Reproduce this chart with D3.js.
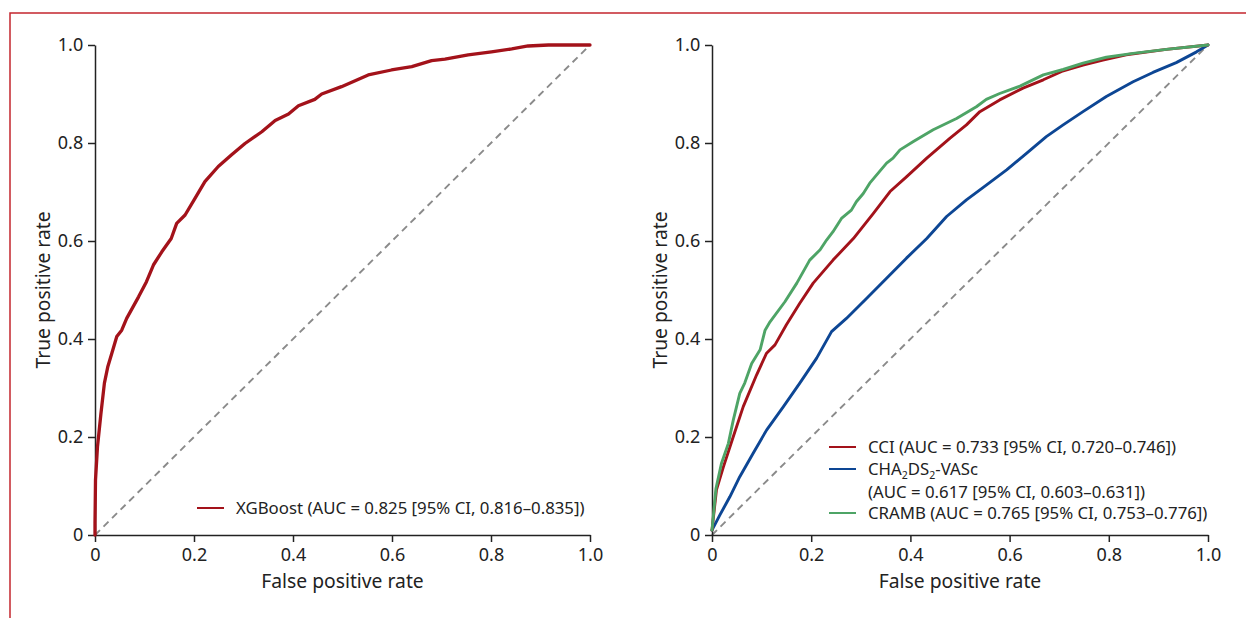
<!DOCTYPE html>
<meta charset="utf-8">
<style>
  body { margin: 0; background: #fff; }
  svg text { font-family: "Noto Sans", sans-serif; fill: #222; }
</style>
<div id="chart"></div>
<script src="https://d3js.org/d3.v7.min.js"></script>
<script>

// tick values, shared by both panels
var ticks = [0, 0.2, 0.4, 0.6, 0.8, 1.0];

// left panel: XGBoost ROC curve, [fpr, tpr]
var xgboost = [[0,0],[0,0.024],[0.001,0.112],[0.005,0.18],[0.012,0.248],[0.019,0.31],[0.026,0.344],
  [0.034,0.371],[0.044,0.405],[0.054,0.418],[0.064,0.442],[0.088,0.486],[0.104,0.517],[0.118,0.551],
  [0.135,0.578],[0.154,0.605],[0.165,0.636],[0.182,0.653],[0.202,0.687],[0.222,0.721],[0.249,0.752],
  [0.276,0.776],[0.303,0.799],[0.337,0.823],[0.364,0.846],[0.391,0.859],[0.411,0.876],[0.444,0.889],
  [0.458,0.9],[0.498,0.915],[0.552,0.939],[0.599,0.949],[0.64,0.956],[0.68,0.968],[0.707,0.971],
  [0.754,0.98],[0.801,0.986],[0.842,0.992],[0.875,0.998],[0.916,1],[1,1]];

// right panel
var cci = [[0,0.01],[0.009,0.092],[0.023,0.139],[0.043,0.201],[0.063,0.262],[0.09,0.327],[0.11,0.371],
  [0.127,0.388],[0.15,0.429],[0.177,0.473],[0.204,0.514],[0.244,0.561],[0.285,0.605],[0.325,0.656],
  [0.359,0.701],[0.392,0.731],[0.433,0.769],[0.48,0.81],[0.513,0.837],[0.54,0.864],[0.58,0.888],
  [0.627,0.912],[0.668,0.929],[0.705,0.946],[0.748,0.959],[0.788,0.969],[0.835,0.98],[0.916,0.991],[1,1]];

var chads = [[0,0.01],[0.016,0.041],[0.036,0.078],[0.056,0.119],[0.083,0.167],[0.11,0.214],[0.144,0.262],
  [0.177,0.31],[0.211,0.361],[0.241,0.415],[0.271,0.442],[0.312,0.483],[0.352,0.524],[0.392,0.565],
  [0.433,0.605],[0.473,0.65],[0.513,0.684],[0.553,0.714],[0.594,0.745],[0.634,0.779],[0.674,0.813],
  [0.708,0.837],[0.748,0.864],[0.795,0.895],[0.849,0.925],[0.889,0.944],[0.936,0.964],[0.977,0.986],[1,1]];

var cramb = [[0,0.01],[0.008,0.095],[0.019,0.146],[0.033,0.187],[0.043,0.235],[0.056,0.289],[0.066,0.31],
  [0.08,0.35],[0.097,0.378],[0.107,0.418],[0.117,0.435],[0.147,0.476],[0.171,0.514],[0.197,0.561],
  [0.218,0.582],[0.231,0.602],[0.244,0.619],[0.261,0.646],[0.281,0.663],[0.291,0.68],[0.305,0.697],
  [0.318,0.718],[0.352,0.759],[0.365,0.769],[0.379,0.786],[0.406,0.803],[0.446,0.827],[0.493,0.85],
  [0.533,0.874],[0.553,0.889],[0.58,0.901],[0.621,0.916],[0.668,0.939],[0.708,0.95],[0.748,0.963],
  [0.795,0.975],[0.849,0.983],[0.916,0.991],[1,1]];

var red = "#a3121a", blue = "#0d4694", green = "#4ea466";

var svg = d3.select("#chart").append("svg")
    .attr("width", 1246)
    .attr("height", 618);

// red frame round the figure
svg.append("rect")
    .attr("x", 10).attr("y", 13)
    .attr("width", 1300).attr("height", 700)
    .attr("fill", "none")
    .attr("stroke", "#c4262e")
    .attr("stroke-width", 1.5);

var height = 490;

function panel(left, top, width) {
  var g = svg.append("g").attr("transform", "translate(" + left + "," + top + ")");
  var x = d3.scaleLinear().domain([0, 1]).range([0, width]);
  var y = d3.scaleLinear().domain([0, 1]).range([height, 0]);
  var fmt = function(d) { return d === 0 ? "0" : d3.format(".1f")(d); };

  // band layer goes first, under everything
  var under = g.append("g");

  // diagonal reference
  g.append("line")
      .attr("x1", x(0)).attr("y1", y(0))
      .attr("x2", x(1)).attr("y2", y(1))
      .attr("stroke", "#8a8a8a")
      .attr("stroke-width", 1.9)
      .attr("stroke-dasharray", "7,5");

  var xa = g.append("g")
      .attr("transform", "translate(0," + height + ")")
      .call(d3.axisBottom(x).tickValues(ticks).tickFormat(fmt).tickSize(7).tickSizeOuter(0));
  var ya = g.append("g")
      .call(d3.axisLeft(y).tickValues(ticks).tickFormat(fmt).tickSize(7).tickSizeOuter(0));
  [xa, ya].forEach(function(a) {
    a.select(".domain").attr("stroke", "#222").attr("stroke-width", 1.5);
    a.selectAll(".tick line").attr("stroke", "#222").attr("stroke-width", 1.5);
    a.selectAll("text").style("font-size", "18px").attr("fill", "#222");
  });
  xa.selectAll("text").attr("dy", "0.9em");
  ya.selectAll("text").attr("dx", "-0.1em");

  g.append("text")
      .attr("x", width / 2).attr("y", height + 53)
      .attr("text-anchor", "middle")
      .style("font-size", "19.3px")
      .text("False positive rate");
  g.append("text")
      .attr("transform", "translate(-45," + (height / 2) + ")rotate(-90)")
      .attr("text-anchor", "middle")
      .style("font-size", "19.3px")
      .text("True positive rate");

  return {g: g, under: under, x: x, y: y};
}

function curve(p, data, color, w) {
  var line = d3.line().x(function(d) { return p.x(d[0]); }).y(function(d) { return p.y(d[1]); });
  p.g.append("path")
      .datum(data)
      .attr("d", line)
      .attr("fill", "none")
      .attr("stroke", color)
      .attr("stroke-width", w)
      .attr("stroke-linejoin", "round")
      .attr("stroke-linecap", "round");
}

function legendRow(p, lx, ly, color, size) {
  p.g.append("line")
      .attr("x1", lx).attr("x2", lx + 27)
      .attr("y1", ly).attr("y2", ly)
      .attr("stroke", color).attr("stroke-width", 2);
  return p.g.append("text")
      .attr("x", lx + 39).attr("y", ly)
      .attr("dy", "0.35em")
      .style("font-size", size + "px");
}

// left panel
var p1 = panel(95, 45, 495);
curve(p1, xgboost, red, 3.3);
legendRow(p1, 102, 463, red, 16.8).text("XGBoost (AUC = 0.825 [95% CI, 0.816\u20130.835])");

// right panel
var p2 = panel(712, 45, 496);

// light band between the top and bottom curves
var band = cramb.concat(chads.slice().reverse());
p2.under.append("path")
    .datum(band)
    .attr("d", d3.line().x(function(d) { return p2.x(d[0]); }).y(function(d) { return p2.y(d[1]); }) + "Z")
    .attr("fill", "#f6f6f2")
    .attr("stroke", "none");

curve(p2, chads, blue, 2.9);
curve(p2, cci, red, 2.9);
curve(p2, cramb, green, 2.9);

var fs = 16.8;
legendRow(p2, 117, 402, red, fs).text("CCI (AUC = 0.733 [95% CI, 0.720\u20130.746])");
var t = legendRow(p2, 117, 424, blue, fs);
t.append("tspan").text("CHA");
t.append("tspan").attr("dy", 4).style("font-size", "10.5px").text("2");
t.append("tspan").attr("dy", -4).text("DS");
t.append("tspan").attr("dy", 4).style("font-size", "10.5px").text("2");
t.append("tspan").attr("dy", -4).text("-VASc");
p2.g.append("text")
    .attr("x", 156).attr("y", 447).attr("dy", "0.35em")
    .style("font-size", fs + "px")
    .text("(AUC = 0.617 [95% CI, 0.603\u20130.631])");
legendRow(p2, 117, 468, green, fs).text("CRAMB (AUC = 0.765 [95% CI, 0.753\u20130.776])");

</script>
